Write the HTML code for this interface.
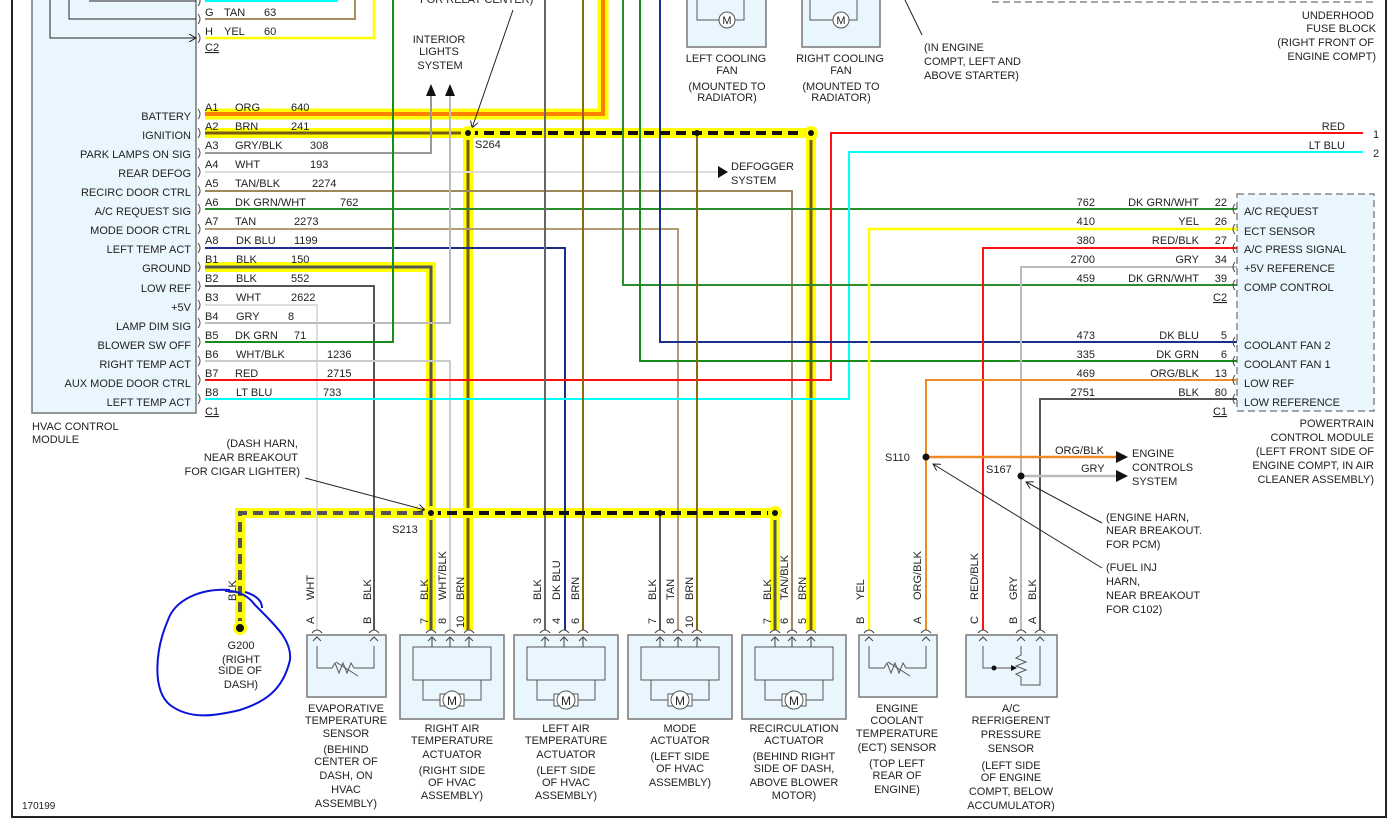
<!DOCTYPE html>
<html><head><meta charset="utf-8"><style>
html,body{margin:0;padding:0;background:#fff}
svg{display:block}
text{font-family:"Liberation Sans",sans-serif;font-size:11px;fill:#222}
.r{text-anchor:end}.c{text-anchor:middle}
</style></head><body>
<svg width="1391" height="820" viewBox="0 0 1391 820" xmlns="http://www.w3.org/2000/svg">
<defs>
<marker id="oa" markerWidth="8" markerHeight="8" refX="7" refY="4" orient="auto" markerUnits="userSpaceOnUse"><path d="M0,0 L7,4 L0,8" fill="none" stroke="#222" stroke-width="1"/></marker>
<marker id="ta" markerWidth="8" markerHeight="8" refX="7" refY="4" orient="auto" markerUnits="userSpaceOnUse"><path d="M0,1 L7,4 L0,7 z" fill="#222"/></marker>
</defs>
<!-- frame -->
<path d="M12,0 V817 H1386 V0" fill="none" stroke="#222" stroke-width="2"/>
<!-- HVAC module -->
<rect x="32" y="-2" width="164" height="415" fill="#eaf6fd" stroke="#777" stroke-width="1.5"/>
<path d="M89,1 H196 M69,0 V19 H196 M50,0 V38 H196" fill="none" stroke="#222" stroke-width="1" marker-end="url(#oa)"/>
<!-- PCM -->
<rect x="1237" y="194" width="137" height="217" fill="#eaf6fd" stroke="#888" stroke-width="1.5" stroke-dasharray="7,4"/>
<!-- Underhood fuse block dashed -->
<path d="M992,2 H1376" stroke="#888" stroke-width="1.5" stroke-dasharray="7,4"/>
<g fill="none" stroke-linejoin="miter">
<!-- wide harness backgrounds -->
<path d="M205,114 H603 V0" stroke="#ffff00" stroke-width="11"/>
<path d="M205,114 H603 V0" stroke="#ff7f00" stroke-width="4"/>
<path d="M205,133 H468 V630" stroke="#ffff00" stroke-width="10"/>
<path d="M205,133 H468 V630" stroke="#7a5a10" stroke-width="3"/>
<path d="M205,267 H431 V630" stroke="#ffff00" stroke-width="10"/>
<path d="M205,267 H431 V630" stroke="#555" stroke-width="3"/>
<path d="M811,133 V630" stroke="#ffff00" stroke-width="10"/>
<path d="M811,133 V630" stroke="#7a5a10" stroke-width="3"/>
<path d="M775,513 V630" stroke="#ffff00" stroke-width="10"/>
<path d="M775,513 V630" stroke="#555" stroke-width="3"/>
<path d="M468,133 H811" stroke="#ffff00" stroke-width="10"/>
<path d="M240,628 V513 H775" stroke="#ffff00" stroke-width="10"/>
<!-- normal wires -->
<path d="M205,1 H338" stroke="#00ffff" stroke-width="2"/>
<path d="M205,19 H355 V0" stroke="#a8905e" stroke-width="2"/>
<path d="M205,38 H374 V0" stroke="#ffff00" stroke-width="2.5"/>
<path d="M205,153 H431 V95" stroke="#999" stroke-width="2"/>
<path d="M205,172 H718" stroke="#ddd" stroke-width="2"/>
<path d="M205,191 H792 V630" stroke="#9c8a5a" stroke-width="2"/>
<path d="M205,209 H1237" stroke="#2e8b2e" stroke-width="2"/>
<path d="M205,229 H678 V630" stroke="#b09c70" stroke-width="2"/>
<path d="M205,248 H565 V630" stroke="#1a2f8a" stroke-width="2"/>
<path d="M205,286 H374 V630" stroke="#555" stroke-width="2"/>
<path d="M205,305 H317 V630" stroke="#ddd" stroke-width="2"/>
<path d="M205,323 H450 V95" stroke="#bbb" stroke-width="2"/>
<path d="M205,342 H393 V0" stroke="#1a8a1a" stroke-width="2"/>
<path d="M205,361 H450 V630" stroke="#ccc" stroke-width="2"/>
<path d="M205,380 H831 V133 H1363" stroke="#ff1010" stroke-width="2"/>
<path d="M205,399 H849 V152 H1363" stroke="#00ffff" stroke-width="2"/>
<path d="M545,0 V630" stroke="#666" stroke-width="2"/>
<path d="M583,0 V630" stroke="#8b6914" stroke-width="2"/>
<path d="M623,0 V285 H1237" stroke="#2e8b2e" stroke-width="2"/>
<path d="M640,0 V361 H1237" stroke="#1a8a1a" stroke-width="2"/>
<path d="M660,0 V342 H1237" stroke="#1a2f8a" stroke-width="2"/>
<path d="M697,133 V630" stroke="#8b6914" stroke-width="2"/>
<path d="M660,513 V630" stroke="#555" stroke-width="2"/>
<path d="M869,630 V229 H1237" stroke="#ffff00" stroke-width="2.5"/>
<path d="M983,630 V248 H1237" stroke="#ff1010" stroke-width="2"/>
<path d="M1021,630 V267 H1237" stroke="#bbb" stroke-width="2"/>
<path d="M926,630 V380 H1237" stroke="#f08a24" stroke-width="2"/>
<path d="M1040,630 V399 H1237" stroke="#555" stroke-width="2"/>
<path d="M926,457 H1118" stroke="#f08a24" stroke-width="2.5"/>
<path d="M1021,476 H1118" stroke="#bbb" stroke-width="2.5"/>
<!-- dashes -->
<path d="M468,133 H811" stroke="#111" stroke-width="4" stroke-dasharray="10,6"/>
<path d="M240,628 V513 H431" stroke="#555" stroke-width="4" stroke-dasharray="10,6"/>
<path d="M431,513 H775" stroke="#111" stroke-width="4" stroke-dasharray="10,6"/>
<!-- leaders -->
<path d="M513,10 L472,128" stroke="#222" stroke-width="1" marker-end="url(#oa)"/>
<path d="M922,35 L905,0" stroke="#222" stroke-width="1"/>
<path d="M305,478 L425,510" stroke="#222" stroke-width="1" marker-end="url(#oa)"/>
<path d="M1102,523 L1026,482" stroke="#222" stroke-width="1" marker-end="url(#oa)"/>
<path d="M1102,568 L933,464" stroke="#222" stroke-width="1" marker-end="url(#oa)"/>
</g>
<!-- arrows -->
<path d="M426,96 L431,84 L436,96 z M445,96 L450,84 L455,96 z" fill="#111"/>
<path d="M718,166 L728,172 L718,178 z" fill="#111"/>
<path d="M1116,451 L1128,457 L1116,463 z M1116,470 L1128,476 L1116,482 z" fill="#111"/>
<!-- splice nodes -->
<g fill="#ffff00"><circle cx="468" cy="133" r="7"/><circle cx="811" cy="133" r="7"/><circle cx="431" cy="513" r="7"/><circle cx="775" cy="513" r="7"/><circle cx="240" cy="628" r="7"/></g>
<g fill="#111"><circle cx="468" cy="133" r="3"/><circle cx="811" cy="133" r="3"/><circle cx="697" cy="133" r="3"/><circle cx="431" cy="513" r="3"/><circle cx="775" cy="513" r="3"/><circle cx="660" cy="513" r="3"/><circle cx="240" cy="628" r="4"/><circle cx="926" cy="457" r="3.5"/><circle cx="1021" cy="476" r="3.5"/></g>
<!-- connector chevrons HVAC -->
<g fill="none" stroke="#444" stroke-width="1">
<path d="M198,-4 q4,5 0,10 M198,14 q4,5 0,10 M198,33 q4,5 0,10 M198,109 q4,5 0,10 M198,128 q4,5 0,10 M198,148 q4,5 0,10 M198,167 q4,5 0,10 M198,186 q4,5 0,10 M198,204 q4,5 0,10 M198,224 q4,5 0,10 M198,243 q4,5 0,10 M198,262 q4,5 0,10 M198,281 q4,5 0,10 M198,300 q4,5 0,10 M198,318 q4,5 0,10 M198,337 q4,5 0,10 M198,356 q4,5 0,10 M198,375 q4,5 0,10 M198,394 q4,5 0,10"/>
<path d="M1235,204 q-4,5 0,10 M1235,224 q-4,5 0,10 M1235,243 q-4,5 0,10 M1235,262 q-4,5 0,10 M1235,280 q-4,5 0,10 M1235,337 q-4,5 0,10 M1235,356 q-4,5 0,10 M1235,375 q-4,5 0,10 M1235,394 q-4,5 0,10"/>
</g>
<!-- HVAC labels -->
<g class="r">
<text x="191" y="120" class="r">BATTERY</text><text x="191" y="139" class="r">IGNITION</text><text x="191" y="158" class="r">PARK LAMPS ON SIG</text><text x="191" y="177" class="r">REAR DEFOG</text><text x="191" y="196" class="r">RECIRC DOOR CTRL</text><text x="191" y="215" class="r">A/C REQUEST SIG</text><text x="191" y="234" class="r">MODE DOOR CTRL</text><text x="191" y="253" class="r">LEFT TEMP ACT</text><text x="191" y="272" class="r">GROUND</text><text x="191" y="292" class="r">LOW REF</text><text x="191" y="311" class="r">+5V</text><text x="191" y="330" class="r">LAMP DIM SIG</text><text x="191" y="349" class="r">BLOWER SW OFF</text><text x="191" y="368" class="r">RIGHT TEMP ACT</text><text x="191" y="387" class="r">AUX MODE DOOR CTRL</text><text x="191" y="406" class="r">LEFT TEMP ACT</text>
</g>
<text x="205" y="16">G</text><text x="224" y="16">TAN</text><text x="264" y="16">63</text>
<text x="205" y="35">H</text><text x="224" y="35">YEL</text><text x="264" y="35">60</text>
<text x="205" y="51" text-decoration="underline">C2</text>
<text x="205" y="111">A1</text><text x="235" y="111">ORG</text><text x="291" y="111">640</text>
<text x="205" y="130">A2</text><text x="235" y="130">BRN</text><text x="291" y="130">241</text>
<text x="205" y="149">A3</text><text x="235" y="149">GRY/BLK</text><text x="310" y="149">308</text>
<text x="205" y="168">A4</text><text x="235" y="168">WHT</text><text x="310" y="168">193</text>
<text x="205" y="187">A5</text><text x="235" y="187">TAN/BLK</text><text x="312" y="187">2274</text>
<text x="205" y="206">A6</text><text x="235" y="206">DK GRN/WHT</text><text x="340" y="206">762</text>
<text x="205" y="225">A7</text><text x="235" y="225">TAN</text><text x="294" y="225">2273</text>
<text x="205" y="244">A8</text><text x="236" y="244">DK BLU</text><text x="294" y="244">1199</text>
<text x="205" y="263">B1</text><text x="236" y="263">BLK</text><text x="291" y="263">150</text>
<text x="205" y="282">B2</text><text x="236" y="282">BLK</text><text x="291" y="282">552</text>
<text x="205" y="301">B3</text><text x="236" y="301">WHT</text><text x="291" y="301">2622</text>
<text x="205" y="320">B4</text><text x="236" y="320">GRY</text><text x="288" y="320">8</text>
<text x="205" y="339">B5</text><text x="235" y="339">DK GRN</text><text x="294" y="339">71</text>
<text x="205" y="358">B6</text><text x="236" y="358">WHT/BLK</text><text x="327" y="358">1236</text>
<text x="205" y="377">B7</text><text x="235" y="377">RED</text><text x="327" y="377">2715</text>
<text x="205" y="396">B8</text><text x="236" y="396">LT BLU</text><text x="323" y="396">733</text>
<text x="205" y="415" text-decoration="underline">C1</text>
<text x="32" y="430">HVAC CONTROL</text><text x="32" y="443">MODULE</text>
<text x="298" y="447" class="r">(DASH HARN,</text><text x="298" y="461" class="r">NEAR BREAKOUT</text><text x="300" y="475" class="r">FOR CIGAR LIGHTER)</text>
<text x="392" y="533">S213</text>
<text x="475" y="148">S264</text>
<text x="420" y="3">FOR RELAY CENTER)</text>
<text x="439" y="43" class="c">INTERIOR</text><text x="439" y="55" class="c">LIGHTS</text><text x="440" y="69" class="c">SYSTEM</text>
<text x="731" y="170">DEFOGGER</text><text x="731" y="184">SYSTEM</text>
<text x="22" y="809" style="font-size:10px">170199</text>
<!-- cooling fans -->
<g fill="#eaf6fd" stroke="#777" stroke-width="1.5"><rect x="687" y="-3" width="79" height="50"/><rect x="802" y="-3" width="78" height="50"/></g>
<g fill="none" stroke="#555" stroke-width="1"><path d="M697,0 V20 H744 V0 M857,0 V20 H810 V0"/><circle cx="727" cy="20" r="8" fill="#fff"/><circle cx="841" cy="20" r="8" fill="#fff"/></g>
<text x="727" y="24" class="c">M</text><text x="841" y="24" class="c">M</text>
<text x="726" y="62" class="c">LEFT COOLING</text><text x="727" y="74" class="c">FAN</text><text x="727" y="90" class="c">(MOUNTED TO</text><text x="727" y="101" class="c">RADIATOR)</text>
<text x="840" y="62" class="c">RIGHT COOLING</text><text x="841" y="74" class="c">FAN</text><text x="841" y="90" class="c">(MOUNTED TO</text><text x="841" y="101" class="c">RADIATOR)</text>
<text x="924" y="51">(IN ENGINE</text><text x="924" y="65">COMPT, LEFT AND</text><text x="924" y="79">ABOVE STARTER)</text>
<text x="1374" y="19" class="r">UNDERHOOD</text><text x="1376" y="32" class="r">FUSE BLOCK</text><text x="1374" y="46" class="r">(RIGHT FRONT OF</text><text x="1376" y="60" class="r">ENGINE COMPT)</text>
<!-- right side labels -->
<text x="1345" y="130" class="r">RED</text><text x="1373" y="138">1</text>
<text x="1345" y="149" class="r">LT BLU</text><text x="1373" y="157">2</text>
<g class="r">
<text x="1095" y="206" class="r">762</text><text x="1199" y="206" class="r">DK GRN/WHT</text><text x="1227" y="206" class="r">22</text>
<text x="1095" y="225" class="r">410</text><text x="1199" y="225" class="r">YEL</text><text x="1227" y="225" class="r">26</text>
<text x="1095" y="244" class="r">380</text><text x="1199" y="244" class="r">RED/BLK</text><text x="1227" y="244" class="r">27</text>
<text x="1095" y="263" class="r">2700</text><text x="1199" y="263" class="r">GRY</text><text x="1227" y="263" class="r">34</text>
<text x="1095" y="282" class="r">459</text><text x="1199" y="282" class="r">DK GRN/WHT</text><text x="1227" y="282" class="r">39</text>
<text x="1095" y="339" class="r">473</text><text x="1199" y="339" class="r">DK BLU</text><text x="1227" y="339" class="r">5</text>
<text x="1095" y="358" class="r">335</text><text x="1199" y="358" class="r">DK GRN</text><text x="1227" y="358" class="r">6</text>
<text x="1095" y="377" class="r">469</text><text x="1199" y="377" class="r">ORG/BLK</text><text x="1227" y="377" class="r">13</text>
<text x="1095" y="396" class="r">2751</text><text x="1199" y="396" class="r">BLK</text><text x="1227" y="396" class="r">80</text>
</g>
<text x="1213" y="301" text-decoration="underline">C2</text><text x="1213" y="415" text-decoration="underline">C1</text>
<text x="1244" y="215">A/C REQUEST</text><text x="1244" y="235">ECT SENSOR</text><text x="1244" y="253">A/C PRESS SIGNAL</text><text x="1244" y="272">+5V REFERENCE</text><text x="1244" y="291">COMP CONTROL</text><text x="1244" y="349">COOLANT FAN 2</text><text x="1244" y="368">COOLANT FAN 1</text><text x="1244" y="387">LOW REF</text><text x="1244" y="406">LOW REFERENCE</text>
<text x="1374" y="427" class="r">POWERTRAIN</text><text x="1374" y="441" class="r">CONTROL MODULE</text><text x="1374" y="455" class="r">(LEFT FRONT SIDE OF</text><text x="1374" y="469" class="r">ENGINE COMPT, IN AIR</text><text x="1374" y="483" class="r">CLEANER ASSEMBLY)</text>
<text x="885" y="461">S110</text><text x="986" y="473">S167</text>
<text x="1055" y="454">ORG/BLK</text><text x="1081" y="472">GRY</text>
<text x="1132" y="457">ENGINE</text><text x="1132" y="471">CONTROLS</text><text x="1132" y="485">SYSTEM</text>
<text x="1106" y="521">(ENGINE HARN,</text><text x="1106" y="534">NEAR BREAKOUT.</text><text x="1106" y="548">FOR PCM)</text>
<text x="1106" y="571">(FUEL INJ</text><text x="1106" y="585">HARN,</text><text x="1106" y="599">NEAR BREAKOUT</text><text x="1106" y="613">FOR C102)</text>
<!-- bottom boxes -->
<g fill="#eaf6fd" stroke="#777" stroke-width="1.5">
<rect x="307" y="635" width="79" height="62"/>
<rect x="400" y="635" width="104" height="84"/><rect x="514" y="635" width="104" height="84"/><rect x="628" y="635" width="104" height="84"/><rect x="742" y="635" width="104" height="84"/>
<rect x="859" y="635" width="78" height="62"/><rect x="966" y="635" width="91" height="62"/>
</g>
<g fill="none" stroke="#555" stroke-width="1">
<rect x="413" y="647" width="78" height="33"/><rect x="527" y="647" width="78" height="33"/><rect x="641" y="647" width="78" height="33"/><rect x="755" y="647" width="78" height="33"/>
<path d="M423,680 V700 H481 V680 M537,680 V700 H595 V680 M651,680 V700 H709 V680 M765,680 V700 H823 V680"/>
<path d="M317,646 V668 H332 l3,-5 l4,10 l4,-10 l4,10 l4,-10 l3,5 H374 V646 M336,662 l22,14"/>
<path d="M869,646 V668 H884 l3,-5 l4,10 l4,-10 l4,10 l4,-10 l3,5 H926 V646 M888,662 l22,14"/>
<path d="M983,646 V668 H1014 M1021,646 V655 l-5,3 l10,4 l-10,4 l10,4 l-10,4 l5,3 V685 H1040 V646"/>
</g>
<circle cx="994" cy="668" r="2.5" fill="#111"/><path d="M1011,665 L1017,668 L1011,671 z" fill="#111"/>
<g fill="#fff" stroke="#555" stroke-width="1">
<rect x="440" y="694" width="24" height="12"/><circle cx="452" cy="700" r="9"/>
<rect x="554" y="694" width="24" height="12"/><circle cx="566" cy="700" r="9"/>
<rect x="668" y="694" width="24" height="12"/><circle cx="680" cy="700" r="9"/>
<rect x="782" y="694" width="24" height="12"/><circle cx="794" cy="700" r="9"/>
</g>
<g style="font-size:12px"><text x="452" y="705" class="c" style="font-size:12px">M</text><text x="566" y="705" class="c" style="font-size:12px">M</text><text x="680" y="705" class="c" style="font-size:12px">M</text><text x="794" y="705" class="c" style="font-size:12px">M</text></g>
<!-- pin caps and arrows -->
<g fill="none" stroke="#444" stroke-width="1">
<path d="M312,633 q5,-6 10,0 M369,633 q5,-6 10,0 M426,633 q5,-6 10,0 M445,633 q5,-6 10,0 M464,633 q5,-6 10,0 M540,633 q5,-6 10,0 M559,633 q5,-6 10,0 M578,633 q5,-6 10,0 M655,633 q5,-6 10,0 M673,633 q5,-6 10,0 M692,633 q5,-6 10,0 M770,633 q5,-6 10,0 M787,633 q5,-6 10,0 M806,633 q5,-6 10,0 M864,633 q5,-6 10,0 M921,633 q5,-6 10,0 M978,633 q5,-6 10,0 M1016,633 q5,-6 10,0 M1035,633 q5,-6 10,0"/>
<path d="M428,641 l4,-4 l4,4 M446,641 l4,-4 l4,4 M465,641 l4,-4 l4,4 M541,641 l4,-4 l4,4 M560,641 l4,-4 l4,4 M579,641 l4,-4 l4,4 M656,641 l4,-4 l4,4 M674,641 l4,-4 l4,4 M693,641 l4,-4 l4,4 M771,641 l4,-4 l4,4 M788,641 l4,-4 l4,4 M807,641 l4,-4 l4,4 M313,641 l4,-4 l4,4 M370,641 l4,-4 l4,4 M865,641 l4,-4 l4,4 M922,641 l4,-4 l4,4 M979,641 l4,-4 l4,4 M1017,641 l4,-4 l4,4 M1036,641 l4,-4 l4,4"/>
<path d="M432,637 V647 M450,637 V647 M469,637 V647 M545,637 V647 M564,637 V647 M583,637 V647 M660,637 V647 M678,637 V647 M697,637 V647 M775,637 V647 M792,637 V647 M811,637 V647"/>
</g>
<!-- rotated wire labels -->
<g style="font-size:10px">
<text transform="translate(314,600) rotate(-90)">WHT</text><text transform="translate(314,624) rotate(-90)">A</text>
<text transform="translate(371,600) rotate(-90)">BLK</text><text transform="translate(371,624) rotate(-90)">B</text>
<text transform="translate(428,600) rotate(-90)">BLK</text><text transform="translate(428,624) rotate(-90)">7</text>
<text transform="translate(446,600) rotate(-90)">WHT/BLK</text><text transform="translate(446,624) rotate(-90)">8</text>
<text transform="translate(464,600) rotate(-90)">BRN</text><text transform="translate(464,628) rotate(-90)">10</text>
<text transform="translate(541,600) rotate(-90)">BLK</text><text transform="translate(541,624) rotate(-90)">3</text>
<text transform="translate(560,600) rotate(-90)">DK BLU</text><text transform="translate(560,624) rotate(-90)">4</text>
<text transform="translate(579,600) rotate(-90)">BRN</text><text transform="translate(579,624) rotate(-90)">6</text>
<text transform="translate(656,600) rotate(-90)">BLK</text><text transform="translate(656,624) rotate(-90)">7</text>
<text transform="translate(674,600) rotate(-90)">TAN</text><text transform="translate(674,624) rotate(-90)">8</text>
<text transform="translate(693,600) rotate(-90)">BRN</text><text transform="translate(693,628) rotate(-90)">10</text>
<text transform="translate(771,600) rotate(-90)">BLK</text><text transform="translate(771,624) rotate(-90)">7</text>
<text transform="translate(788,600) rotate(-90)">TAN/BLK</text><text transform="translate(788,624) rotate(-90)">6</text>
<text transform="translate(806,600) rotate(-90)">BRN</text><text transform="translate(806,624) rotate(-90)">5</text>
<text transform="translate(864,600) rotate(-90)">YEL</text><text transform="translate(864,624) rotate(-90)">B</text>
<text transform="translate(921,600) rotate(-90)">ORG/BLK</text><text transform="translate(921,624) rotate(-90)">A</text>
<text transform="translate(978,600) rotate(-90)">RED/BLK</text><text transform="translate(978,624) rotate(-90)">C</text>
<text transform="translate(1017,600) rotate(-90)">GRY</text><text transform="translate(1017,624) rotate(-90)">B</text>
<text transform="translate(1036,600) rotate(-90)">BLK</text><text transform="translate(1036,624) rotate(-90)">A</text>
<text transform="translate(236,601) rotate(-90)">BLK</text>
</g>
<!-- G200 -->
<text x="241" y="649" class="c">G200</text><text x="241" y="663" class="c">(RIGHT</text><text x="240" y="674" class="c">SIDE OF</text><text x="241" y="688" class="c">DASH)</text>
<path d="M230,590 C200,588 175,600 168,620 C155,650 152,690 170,705 C190,720 215,716 240,710 C265,702 283,690 290,660 C292,640 275,625 255,605 C250,598 240,590 225,591 M245,592 C255,595 262,600 262,608" fill="none" stroke="#0a14d8" stroke-width="2"/>
<!-- box captions -->
<text x="346" y="712" class="c">EVAPORATIVE</text><text x="346" y="724" class="c">TEMPERATURE</text><text x="346" y="737" class="c">SENSOR</text><text x="346" y="753" class="c">(BEHIND</text><text x="346" y="765" class="c">CENTER OF</text><text x="346" y="779" class="c">DASH, ON</text><text x="346" y="793" class="c">HVAC</text><text x="346" y="807" class="c">ASSEMBLY)</text>
<text x="452" y="732" class="c">RIGHT AIR</text><text x="452" y="744" class="c">TEMPERATURE</text><text x="452" y="758" class="c">ACTUATOR</text><text x="452" y="774" class="c">(RIGHT SIDE</text><text x="452" y="786" class="c">OF HVAC</text><text x="452" y="799" class="c">ASSEMBLY)</text>
<text x="566" y="732" class="c">LEFT AIR</text><text x="566" y="744" class="c">TEMPERATURE</text><text x="566" y="758" class="c">ACTUATOR</text><text x="566" y="774" class="c">(LEFT SIDE</text><text x="566" y="786" class="c">OF HVAC</text><text x="566" y="799" class="c">ASSEMBLY)</text>
<text x="680" y="732" class="c">MODE</text><text x="680" y="744" class="c">ACTUATOR</text><text x="680" y="760" class="c">(LEFT SIDE</text><text x="680" y="772" class="c">OF HVAC</text><text x="680" y="786" class="c">ASSEMBLY)</text>
<text x="794" y="732" class="c">RECIRCULATION</text><text x="794" y="744" class="c">ACTUATOR</text><text x="794" y="760" class="c">(BEHIND RIGHT</text><text x="794" y="772" class="c">SIDE OF DASH,</text><text x="794" y="786" class="c">ABOVE BLOWER</text><text x="794" y="799" class="c">MOTOR)</text>
<text x="897" y="712" class="c">ENGINE</text><text x="897" y="724" class="c">COOLANT</text><text x="897" y="737" class="c">TEMPERATURE</text><text x="897" y="751" class="c">(ECT) SENSOR</text><text x="897" y="767" class="c">(TOP LEFT</text><text x="897" y="779" class="c">REAR OF</text><text x="897" y="793" class="c">ENGINE)</text>
<text x="1011" y="712" class="c">A/C</text><text x="1011" y="724" class="c">REFRIGERENT</text><text x="1011" y="738" class="c">PRESSURE</text><text x="1011" y="752" class="c">SENSOR</text><text x="1011" y="769" class="c">(LEFT SIDE</text><text x="1011" y="781" class="c">OF ENGINE</text><text x="1011" y="795" class="c">COMPT, BELOW</text><text x="1011" y="809" class="c">ACCUMULATOR)</text>
</svg>
</body></html>
